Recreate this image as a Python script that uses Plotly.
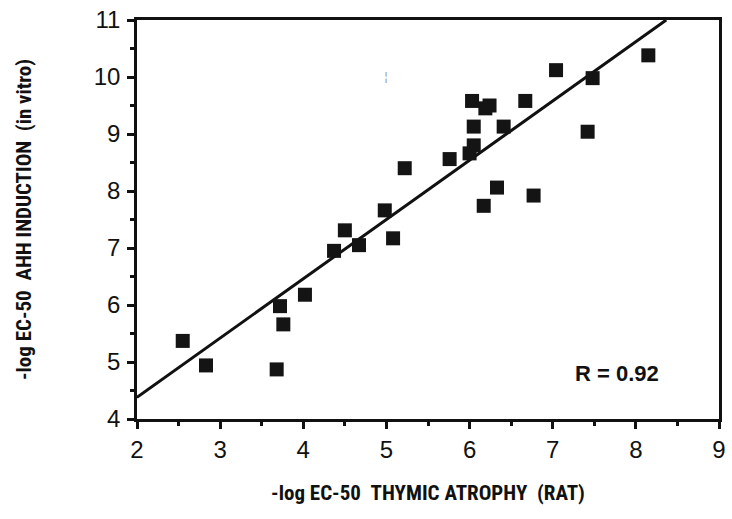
import plotly.graph_objects as go

# -log EC-50 values for each congener: thymic atrophy (rat) vs AHH induction (in vitro)
thymic_atrophy = [2.55, 2.83, 3.68, 3.72, 3.76, 4.02, 4.37, 4.50, 4.67, 4.98, 5.08,
                  5.22, 5.76, 6.00, 6.05, 6.05, 6.03, 6.19, 6.24, 6.17, 6.33, 6.41,
                  6.67, 6.77, 7.04, 7.42, 7.48, 8.15]
ahh_induction = [5.37, 4.94, 4.87, 5.98, 5.66, 6.18, 6.95, 7.31, 7.05, 7.66, 7.17,
                 8.40, 8.56, 8.66, 8.80, 9.13, 9.58, 9.45, 9.50, 7.74, 8.06, 9.13,
                 9.58, 7.92, 10.12, 9.04, 9.98, 10.38]

# least-squares fit line y = intercept + slope * x
fit_intercept = 2.30
fit_slope = 1.04
fit_x = [2.0, (11.0 - fit_intercept) / fit_slope]
fit_y = [fit_intercept + fit_slope * x for x in fit_x]

x_ticks = [2, 3, 4, 5, 6, 7, 8, 9]
y_ticks = [4, 5, 6, 7, 8, 9, 10, 11]
r_label = "R = 0.92"

narrow = "Liberation Sans Narrow, Arial Narrow, Roboto Condensed, Liberation Sans, sans-serif"
x_title_font = dict(family=narrow, size=21, color="#111111")
y_title_font = dict(family=narrow, size=21, color="#111111")
tick_font = dict(family="Liberation Sans, Arial, sans-serif", size=24, color="#111111")

fig = go.Figure()
fig.add_trace(go.Scatter(x=fit_x, y=fit_y, mode="lines",
                         line=dict(color="#111111", width=3), hoverinfo="skip"))
fig.add_trace(go.Scatter(x=thymic_atrophy, y=ahh_induction, mode="markers",
                         marker=dict(symbol="square", size=14, color="#141414",
                                     line=dict(width=0))))

fig.add_annotation(x=7.77, y=4.8, xref="x", yref="y", text="<b>" + r_label + "</b>",
                   showarrow=False,
                   font=dict(family="Liberation Sans, Arial, sans-serif", size=22,
                             color="#111111"))
fig.add_annotation(x=5.0, y=10.0, xref="x", yref="y", text="¦", showarrow=False,
                   font=dict(family="DejaVu Sans", size=12, color="#9a9a9a"))

axis_common = dict(showline=True, linecolor="#111111", linewidth=2.5, mirror=True,
                   ticks="outside", tickcolor="#111111", tickwidth=2.5, ticklen=7,
                   showgrid=False, zeroline=False, tickfont=tick_font)

fig.update_xaxes(range=[2, 9], tickvals=x_ticks, ticktext=[str(v) for v in x_ticks],
                 minor=dict(dtick=0.5, ticks="outside", ticklen=4, tickwidth=2.5,
                            tickcolor="#111111", showgrid=False),
                 title=dict(text="<b>-log EC-50\u00a0\u00a0THYMIC ATROPHY\u00a0\u00a0(RAT)</b>",
                            font=x_title_font, standoff=24),
                 **axis_common)
fig.update_yaxes(range=[4, 11], tickvals=y_ticks, ticktext=[str(v) for v in y_ticks],
                 ticklabelstandoff=2,
                 minor=dict(dtick=0.5, ticks="outside", ticklen=4, tickwidth=2.5,
                            tickcolor="#111111", showgrid=False),
                 title=dict(text="<b>-log EC-50\u00a0\u00a0AHH INDUCTION\u00a0\u00a0(in vitro)</b>",
                            font=y_title_font, standoff=57),
                 **axis_common)

fig.update_layout(width=732, height=519, showlegend=False,
                  margin=dict(l=137, r=6, t=15, b=100),
                  plot_bgcolor="white", paper_bgcolor="white")

fig.write_html("out.html")
